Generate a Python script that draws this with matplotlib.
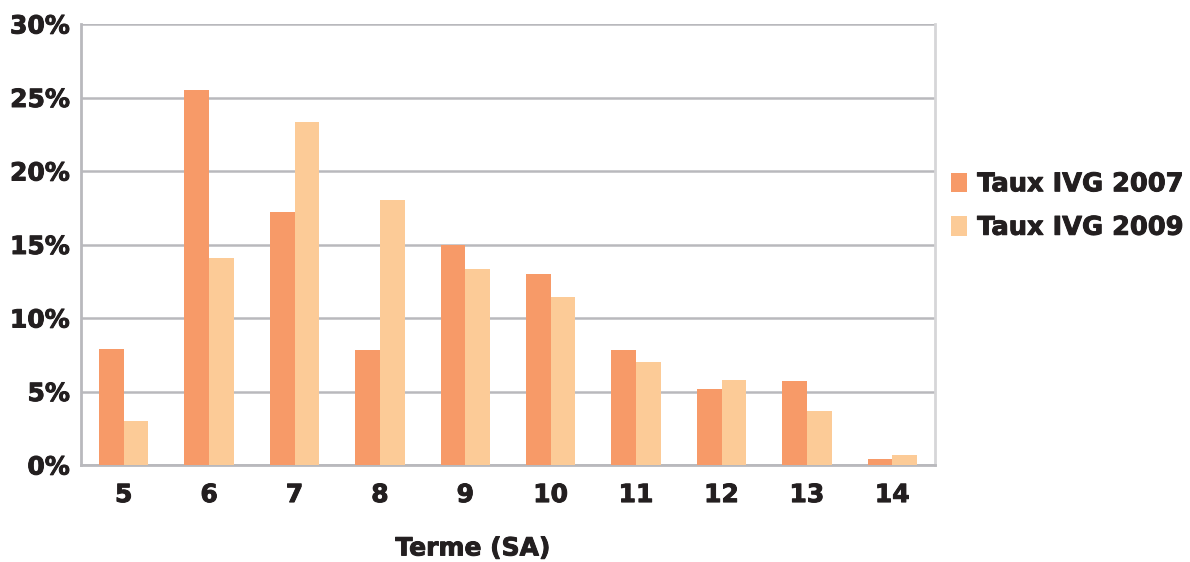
import numpy as np
import matplotlib.pyplot as plt
import matplotlib.patheffects as pe
from matplotlib.ticker import FuncFormatter

# Terme en semaines d'aménorrhée
termes = ['5', '6', '7', '8', '9', '10', '11', '12', '13', '14']
taux_2007 = [7.9, 25.5, 17.2, 7.8, 15.0, 13.0, 7.8, 5.2, 5.7, 0.4]
taux_2009 = [3.0, 14.1, 23.3, 18.0, 13.3, 11.4, 7.0, 5.8, 3.7, 0.7]

c2007 = '#F79A68'
c2009 = '#FCCB97'
grid_c = '#B9B9BD'
txt_c = '#231F20'

plt.rcParams['font.family'] = ['DejaVu Sans']
plt.rcParams['font.weight'] = 'bold'

fig = plt.figure(figsize=(11.9, 5.62), dpi=100)
ax = fig.add_axes([81 / 1190, 1 - 465 / 562, (935 - 81) / 1190, (465 - 24) / 562])

x = np.arange(len(termes))
w = 0.29
ax.bar(x - w / 2, taux_2007, w, color=c2007, label='Taux IVG 2007', zorder=3)
ax.bar(x + w / 2, taux_2009, w, color=c2009, label='Taux IVG 2009', zorder=3)

ax.set_xlim(-0.5, len(termes) - 0.5)
ax.set_ylim(0, 30)
ax.set_yticks(np.arange(0, 31, 5))
ax.yaxis.set_major_formatter(FuncFormatter(lambda v, p: f'{v:.0f}%'))
ax.set_xticks(x)
ax.set_xticklabels(termes)
ax.tick_params(axis='both', length=0, labelsize=18)
ax.tick_params(axis='x', pad=13)
ax.tick_params(axis='y', pad=8)
heavy = [pe.withStroke(linewidth=0.7, foreground=txt_c)]
for lab in ax.get_xticklabels() + ax.get_yticklabels():
    lab.set_color(txt_c)
    lab.set_path_effects(heavy)

ax.grid(axis='y', color=grid_c, linewidth=1.8, zorder=0)
for side in ['left', 'bottom']:
    ax.spines[side].set_color(grid_c)
    ax.spines[side].set_linewidth(2.0)
ax.spines['top'].set_visible(False)
ax.spines['right'].set_color('#D6D6D8')
ax.spines['right'].set_linewidth(2.0)

xl = ax.set_xlabel('Terme (SA)', fontsize=18, fontweight='bold', color=txt_c)
xl.set_path_effects(heavy)
ax.xaxis.set_label_coords(0.459, -0.162)

leg = fig.legend(loc='center left', bbox_to_anchor=(951 / 1190, 1 - 206 / 562),
                 frameon=False, fontsize=18.5, handlelength=0.62, handleheight=0.8,
                 handletextpad=0.4, labelspacing=0.68, borderpad=0, borderaxespad=0)
for t in leg.get_texts():
    t.set_color(txt_c)
    t.set_path_effects(heavy)

fig.savefig('out.png', dpi=100)
